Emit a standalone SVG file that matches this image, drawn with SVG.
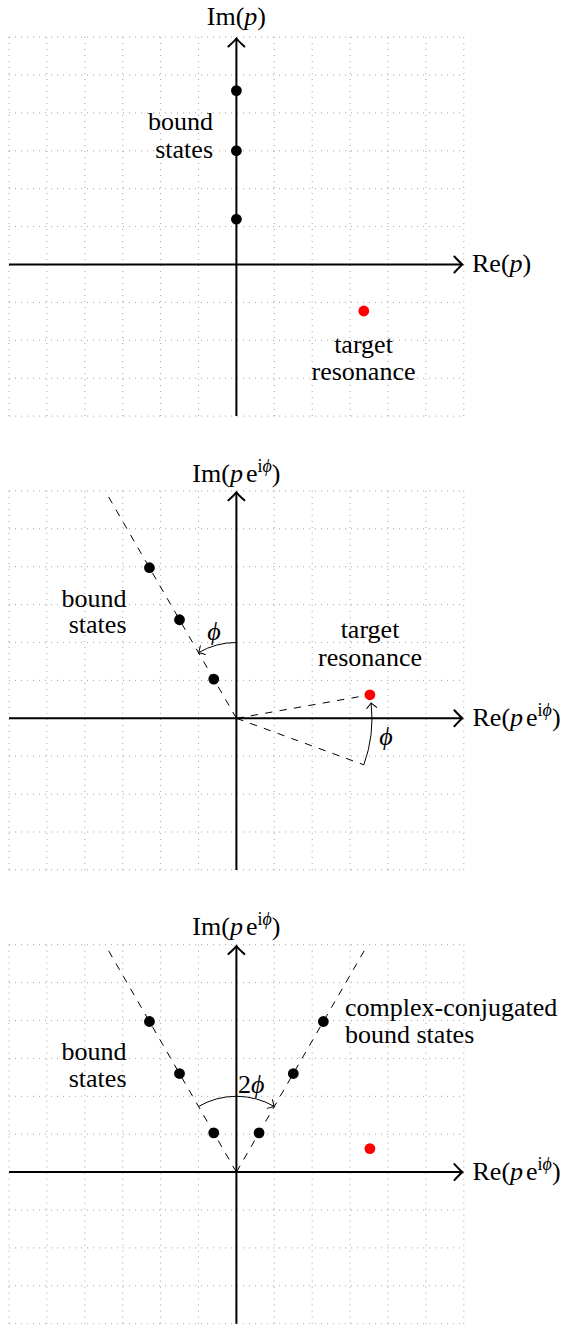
<svg xmlns="http://www.w3.org/2000/svg" xmlns:xlink="http://www.w3.org/1999/xlink" width="566" height="1324" viewBox="0 0 566 1324">
<style>
.grid{fill:none;stroke:#8c8c8c;stroke-width:0.9;stroke-dasharray:0.9 5.1}
.axis{fill:none;stroke:#000;stroke-width:2}
.dash{fill:none;stroke:#000;stroke-width:1;stroke-dasharray:7.3 7.3}
.arc{fill:none;stroke:#000;stroke-width:1}
.dot{fill:#000}
.red{fill:#ff0000}
text{font-family:'Liberation Serif','Times New Roman',serif;font-size:26px;fill:#000}
.it{font-style:italic}
.sup{font-size:18px}
.m{text-anchor:middle}
.e{text-anchor:end}
</style>
<defs>
<marker id="big" markerUnits="userSpaceOnUse" viewBox="-11 -10 13 20" refX="0" refY="0" markerWidth="13" markerHeight="20" orient="auto">
<path d="M-8,-8 Q-2,-1.5 0,0 Q-2,1.5 -8,8" fill="none" stroke="#000" stroke-width="2" stroke-linecap="round"/>
</marker>
<marker id="small" markerUnits="userSpaceOnUse" viewBox="-8 -7 10 14" refX="0" refY="0" markerWidth="10" markerHeight="14" orient="auto">
<path d="M-5,-5 Q-1.3,-1 0,0 Q-1.3,1 -5,5" fill="none" stroke="#000" stroke-width="1" stroke-linecap="round"/>
</marker>
<g id="gridpat">
<path class="grid" d="M-227.4,-227.4V151.6M-189.5,-227.4V151.6M-151.6,-227.4V151.6M-113.7,-227.4V151.6M-75.8,-227.4V151.6M-37.9,-227.4V151.6M0,-227.4V151.6M37.9,-227.4V151.6M75.8,-227.4V151.6M113.7,-227.4V151.6M151.6,-227.4V151.6M189.5,-227.4V151.6M227.4,-227.4V151.6M-227.4,-227.4H227.4M-227.4,-189.5H227.4M-227.4,-151.6H227.4M-227.4,-113.7H227.4M-227.4,-75.8H227.4M-227.4,-37.9H227.4M-227.4,0H227.4M-227.4,37.9H227.4M-227.4,75.8H227.4M-227.4,113.7H227.4M-227.4,151.6H227.4"/>
</g>
<g id="axes">
<path class="axis" d="M-227.4,0H226" marker-end="url(#big)"/>
<path class="axis" d="M0,151.6V-226" marker-end="url(#big)"/>
</g>
</defs>

<g id="grids">
<use xlink:href="#gridpat" transform="translate(236.4,264.5)"/>
<use xlink:href="#gridpat" transform="translate(236.4,718.3)"/>
<use xlink:href="#gridpat" transform="translate(236.4,1172.1)"/>
</g>
<g id="axes-all">
<use xlink:href="#axes" transform="translate(236.4,264.5)"/>
<use xlink:href="#axes" transform="translate(236.4,718.3)"/>
<use xlink:href="#axes" transform="translate(236.4,1172.1)"/>
</g>

<g id="connectors">
<path class="dash" d="M236.4,718.3L105.1,490.9"/>
<path class="dash" d="M236.4,718.3L369.9,694.8"/>
<path class="dash" d="M236.4,718.3L363.8,764.8"/>
<path class="arc" d="M236.4,642.5A75.8,75.8 0 0 0 198.5,652.66" marker-end="url(#small)"/>
<path class="arc" d="M363.8,764.8A135.6,135.6 0 0 0 371.1,702.95" marker-end="url(#small)"/>
<path class="dash" d="M236.4,1172.1L105.1,944.7"/>
<path class="dash" d="M236.4,1172.1L367.7,944.7"/>
<path class="arc" d="M198.5,1106.46A75.8,75.8 0 0 1 274.3,1106.46" marker-end="url(#small)"/>
</g>

<g id="labels">
<g id="panel1">
<g id="p1-im-label"><text class="m" x="236.4" y="25">Im(<tspan class="it">p</tspan>)</text></g>
<g id="p1-re-label"><text x="472" y="272">Re(<tspan class="it">p</tspan>)</text></g>
<g id="p1-bound1"><circle class="dot" cx="236.4" cy="90.6" r="5.4"/></g>
<g id="p1-bound2"><circle class="dot" cx="236.4" cy="150.7" r="5.4"/></g>
<g id="p1-bound3"><circle class="dot" cx="236.4" cy="219.2" r="5.4"/></g>
<g id="p1-resonance"><circle class="red" cx="363.8" cy="311" r="5.4"/></g>
<g id="p1-bound-label"><text class="e" x="213" y="130">bound</text><text class="e" x="213" y="157.5">states</text></g>
<g id="p1-target-label"><text class="m" x="363.5" y="353">target</text><text class="m" x="363.5" y="380">resonance</text></g>
</g>

<g id="panel2">
<g id="p2-im-label"><text class="m" x="236.4" y="481.7">Im(<tspan class="it">p</tspan><tspan dx="3">e</tspan><tspan class="sup" dy="-10">i</tspan><tspan class="sup it">ϕ</tspan><tspan dy="10">)</tspan></text></g>
<g id="p2-re-label"><text x="472.5" y="726">Re(<tspan class="it">p</tspan><tspan dx="3">e</tspan><tspan class="sup" dy="-10">i</tspan><tspan class="sup it">ϕ</tspan><tspan dy="10">)</tspan></text></g>
<g id="p2-bound1"><circle class="dot" cx="213.75" cy="679.07" r="5.4"/></g>
<g id="p2-bound2"><circle class="dot" cx="179.5" cy="619.75" r="5.4"/></g>
<g id="p2-bound3"><circle class="dot" cx="149.45" cy="567.7" r="5.4"/></g>
<g id="p2-resonance"><circle class="red" cx="369.9" cy="694.8" r="5.4"/></g>
<g id="p2-phi1"><text class="m it" x="214" y="640">ϕ</text></g>
<g id="p2-phi2"><text class="m it" x="386" y="745">ϕ</text></g>
<g id="p2-bound-label"><text class="e" x="126.5" y="606.7">bound</text><text class="e" x="126.5" y="633.3">states</text></g>
<g id="p2-target-label"><text class="m" x="370" y="638.3">target</text><text class="m" x="370" y="666">resonance</text></g>
</g>

<g id="panel3">
<g id="p3-im-label"><text class="m" x="236.4" y="935.4">Im(<tspan class="it">p</tspan><tspan dx="3">e</tspan><tspan class="sup" dy="-10">i</tspan><tspan class="sup it">ϕ</tspan><tspan dy="10">)</tspan></text></g>
<g id="p3-re-label"><text x="472.5" y="1179.8">Re(<tspan class="it">p</tspan><tspan dx="3">e</tspan><tspan class="sup" dy="-10">i</tspan><tspan class="sup it">ϕ</tspan><tspan dy="10">)</tspan></text></g>
<g id="p3-bound1"><circle class="dot" cx="213.75" cy="1132.87" r="5.4"/></g>
<g id="p3-bound2"><circle class="dot" cx="179.5" cy="1073.55" r="5.4"/></g>
<g id="p3-bound3"><circle class="dot" cx="149.45" cy="1021.5" r="5.4"/></g>
<g id="p3-cc1"><circle class="dot" cx="259.05" cy="1132.87" r="5.4"/></g>
<g id="p3-cc2"><circle class="dot" cx="293.3" cy="1073.55" r="5.4"/></g>
<g id="p3-cc3"><circle class="dot" cx="323.35" cy="1021.5" r="5.4"/></g>
<g id="p3-resonance"><circle class="red" cx="369.9" cy="1148.6" r="5.4"/></g>
<g id="p3-2phi"><text x="238" y="1093">2<tspan class="it">ϕ</tspan></text></g>
<g id="p3-bound-label"><text class="e" x="126.5" y="1060.4">bound</text><text class="e" x="126.5" y="1087">states</text></g>
<g id="p3-cc-label"><text x="345" y="1015.7">complex-conjugated</text><text x="345" y="1043.3">bound states</text></g>
</g>
</g>
</svg>
